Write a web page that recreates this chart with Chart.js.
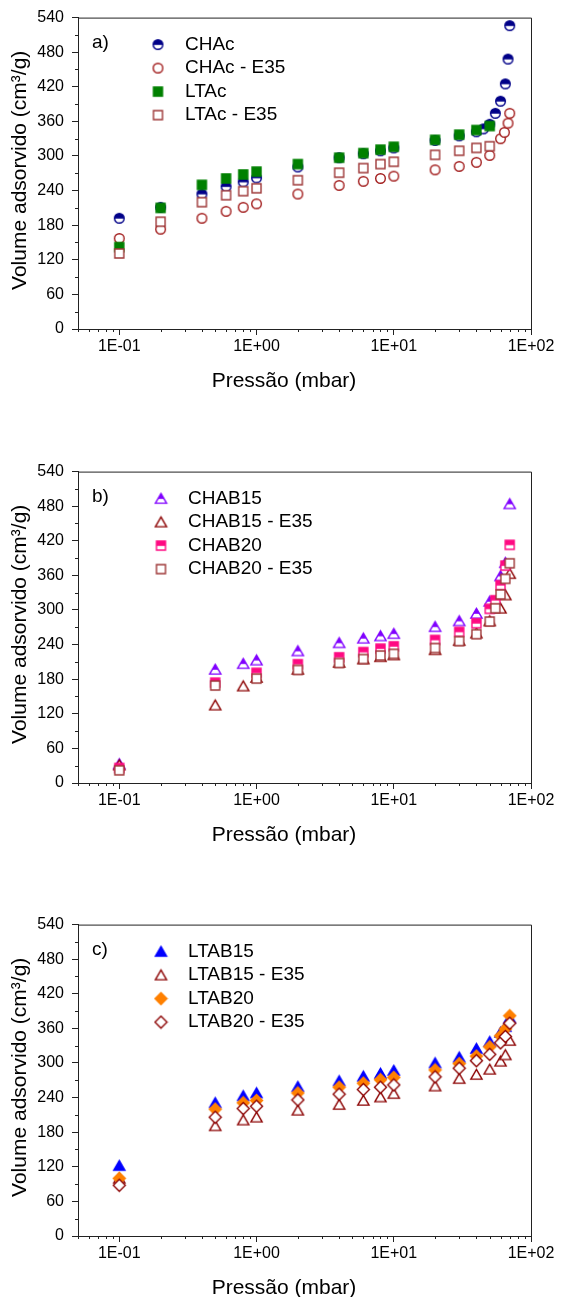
<!DOCTYPE html>
<html>
<head>
<meta charset="utf-8">
<script src="https://cdn.jsdelivr.net/npm/chart.js@4.4.1/dist/chart.umd.min.js"></script>
<style>
    html, body { margin: 0; padding: 0; background: #fff; }
    body { width: 561px; height: 1297px; position: relative; overflow: hidden; }
    canvas { position: absolute; left: 0; }
</style>
</head>
<body>
<canvas id="chartA" width="561" height="454" style="top:0px"></canvas>
<canvas id="chartB" width="561" height="454" style="top:454px"></canvas>
<canvas id="chartC" width="561" height="390" style="top:907px"></canvas>
<script>
// ---- data (pressure in mbar, volume in cm3/g) ----
const xTickValues = [0.1, 1, 10, 100];
const yTickStep = 60;

// a) CHAc / LTAc
const pCHAc = [0.1, 0.2, 0.4, 0.6, 0.8, 1, 2, 4, 6, 8, 10, 20, 30, 40, 45, 50, 55, 60, 65, 68, 70];
const vCHAc = [192, 211, 234, 247, 255, 262, 281, 297, 304, 309, 314, 327, 335, 342, 347, 355, 374, 395, 425, 468, 526];
const pCHAcE35 = [0.1, 0.2, 0.4, 0.6, 0.8, 1, 2, 4, 6, 8, 10, 20, 30, 40, 50, 60, 64, 68, 70];
const vCHAcE35 = [157, 173, 192, 204, 211, 217, 234, 249, 256, 261, 265, 276, 282, 289, 301, 330, 341, 357, 374];
const pLTAc = [0.1, 0.2, 0.4, 0.6, 0.8, 1, 2, 4, 6, 8, 10, 20, 30, 40, 50];
const vLTAc = [142, 210, 250, 261, 268, 273, 286, 297, 305, 311, 316, 328, 337, 345, 352];
const vLTAcE35 = [131, 186, 220, 232, 239, 244, 258, 271, 279, 286, 290, 302, 309, 314, 317];

// b) CHAB15 / CHAB20
const pCHAB15 = [0.1, 0.5, 0.8, 1, 2, 4, 6, 8, 10, 20, 30, 40, 50, 60, 65, 70];
const vCHAB15 = [33, 197, 207, 213, 229, 243, 251, 255, 259, 271, 281, 294, 315, 359, 382, 484];
const vCHAB15E35 = [31, 135, 168, 183, 197, 209, 215, 219, 222, 231, 247, 260, 281, 303, 326, 363];
const pCHAB20 = [0.1, 0.5, 1, 2, 4, 6, 8, 10, 20, 30, 40, 50, 55, 60, 65, 70];
const vCHAB20 = [26, 174, 191, 206, 218, 227, 233, 237, 248, 262, 277, 302, 317, 343, 377, 413];
const vCHAB20E35 = [22, 169, 181, 196, 208, 215, 221, 224, 234, 246, 258, 280, 303, 327, 354, 381];

// c) LTAB15 / LTAB20
const pLTAB = [0.1, 0.5, 0.8, 1, 2, 4, 6, 8, 10, 20, 30, 40, 50, 60, 65, 70];
const vLTAB15 = [122, 231, 243, 248, 259, 269, 277, 282, 287, 300, 310, 325, 337, 353, 363, 378];
const vLTAB15E35 = [100, 191, 201, 206, 218, 228, 235, 241, 247, 260, 273, 280, 289, 303, 314, 339];
const vLTAB20 = [100, 220, 231, 235, 248, 258, 265, 271, 275, 288, 299, 312, 328, 347, 359, 382];
const vLTAB20E35 = [88, 206, 221, 225, 236, 246, 254, 258, 262, 276, 291, 304, 315, 335, 346, 369];

const FONT = '"Liberation Sans", Arial, sans-serif';
const AXIS_COLOR = '#222';

// Build a marker image (Origin style symbols)
function makeMarker(shape, color, fill) {
    const s = 15;
    const c = document.createElement('canvas');
    c.width = s;
    c.height = s;
    const ctx = c.getContext('2d');
    const m = s / 2;
    const path = () => {
        ctx.beginPath();
        if (shape === 'circle') {
            ctx.arc(m, m, 4.8, 0, Math.PI * 2);
        } else if (shape === 'square') {
            ctx.rect(m - 4.5, m - 4.5, 9, 9);
        } else if (shape === 'triangle') {
            ctx.moveTo(m, m - 5.2);
            ctx.lineTo(m + 5.6, m + 4.6);
            ctx.lineTo(m - 5.6, m + 4.6);
            ctx.closePath();
        } else if (shape === 'diamond') {
            ctx.moveTo(m, m - 6);
            ctx.lineTo(m + 6, m);
            ctx.lineTo(m, m + 6);
            ctx.lineTo(m - 6, m);
            ctx.closePath();
        }
    };
    path();
    ctx.fillStyle = fill === 'full' ? color : '#fff';
    ctx.fill();
    if (fill === 'half') {
        ctx.save();
        path();
        ctx.clip();
        ctx.fillStyle = color;
        ctx.fillRect(0, 0, s, m + 0.3);
        ctx.restore();
    }
    path();
    ctx.strokeStyle = color;
    ctx.lineWidth = 1.4;
    ctx.stroke();
    return c;
}

function expLabel(v) {
    const e = Math.round(Math.log10(v));
    return '1E' + (e < 0 ? '-' : '+') + String(Math.abs(e)).padStart(2, '0');
}

function toPoints(xs, ys) {
    return xs.map((x, i) => ({ x: x, y: ys[i] }));
}

// Frame, minor ticks, titles, panel letter and legend
const decorPlugin = {
    id: 'decor',
    afterDraw(chart, args, opts) {
        const ctx = chart.ctx;
        const ca = chart.chartArea;
        const xs = chart.scales.x;
        const ys = chart.scales.y;
        ctx.save();
        ctx.strokeStyle = AXIS_COLOR;
        ctx.lineWidth = 1;
        ctx.beginPath();
        ctx.moveTo(ca.left, ca.top + 0.5);
        ctx.lineTo(ca.right + 0.5, ca.top + 0.5);
        ctx.lineTo(ca.right + 0.5, ca.bottom);
        ctx.stroke();

        // minor ticks
        ctx.beginPath();
        for (let d = -2; d <= 1; d++) {
            for (let k = 2; k <= 9; k++) {
                const v = k * Math.pow(10, d);
                if (v < xs.min || v > xs.max) continue;
                const px = Math.round(xs.getPixelForValue(v)) + 0.5;
                ctx.moveTo(px, ca.bottom);
                ctx.lineTo(px, ca.bottom + 3);
            }
        }
        for (let v = yTickStep / 2; v < ys.max; v += yTickStep) {
            const py = Math.round(ys.getPixelForValue(v)) + 0.5;
            ctx.moveTo(ca.left - 3, py);
            ctx.lineTo(ca.left, py);
        }
        ctx.stroke();

        // axis titles
        ctx.fillStyle = '#000';
        ctx.font = '21px ' + FONT;
        ctx.textAlign = 'center';
        ctx.textBaseline = 'middle';
        ctx.fillText('Pressão (mbar)', 284, ca.bottom + 52);
        ctx.save();
        ctx.translate(20, (ca.top + ca.bottom) / 2 - 3);
        ctx.rotate(-Math.PI / 2);
        ctx.fillText('Volume adsorvido (cm³/g)', 0, 0);
        ctx.restore();

        // panel letter
        ctx.font = '19px ' + FONT;
        ctx.textAlign = 'left';
        ctx.fillText(opts.letter, 92, ca.top + 25);

        // legend
        const rows = [27, 50.5, 74, 97.5];
        chart.data.datasets.forEach((ds, i) => {
            const y = ca.top + rows[i];
            const img = ds.pointStyle;
            ctx.drawImage(img, opts.legendX - img.width / 2, y - img.height / 2);
            ctx.fillText(ds.label, opts.legendX + 27, y);
        });
        ctx.restore();
    }
};

function makePanel(id, letter, legendX, series) {
    const canvas = document.getElementById(id);
    const ctx = canvas.getContext('2d');
    const n = series.length;
    return new Chart(ctx, {
        type: 'scatter',
        data: {
            datasets: series.map((s, i) => ({
                label: s.label,
                data: toPoints(s.x, s.y),
                pointStyle: s.marker,
                pointRadius: 6,
                pointHoverRadius: 6,
                showLine: false,
                order: n - i
            }))
        },
        options: {
            responsive: false,
            devicePixelRatio: 1,
            animation: false,
            events: [],
            layout: {
                padding: { top: 13, right: 30, left: 0, bottom: 0 }
            },
            plugins: {
                legend: { display: false },
                tooltip: { enabled: false },
                decor: { letter: letter, legendX: legendX }
            },
            scales: {
                x: {
                    type: 'logarithmic',
                    min: 0.05,
                    max: 100,
                    afterBuildTicks: (scale) => {
                        scale.ticks = xTickValues.map(v => ({ value: v, major: true }));
                    },
                    afterFit: (scale) => {
                        scale.height = canvas.height - 13 - 316;
                    },
                    ticks: {
                        callback: (v) => expLabel(v),
                        autoSkip: false,
                        maxRotation: 0,
                        padding: 2,
                        color: '#000',
                        font: { size: 16, family: FONT }
                    },
                    grid: {
                        drawOnChartArea: false,
                        drawTicks: true,
                        tickLength: 6,
                        color: AXIS_COLOR
                    },
                    border: { display: true, color: AXIS_COLOR, width: 1 }
                },
                y: {
                    min: 0,
                    max: 540,
                    afterFit: (scale) => {
                        scale.width = 78;
                    },
                    ticks: {
                        stepSize: yTickStep,
                        padding: 8,
                        color: '#000',
                        font: { size: 16, family: FONT }
                    },
                    grid: {
                        drawOnChartArea: false,
                        drawTicks: true,
                        tickLength: 6,
                        color: AXIS_COLOR
                    },
                    border: { display: true, color: AXIS_COLOR, width: 1 }
                }
            }
        },
        plugins: [decorPlugin]
    });
}

const navy = '#000088';
const brick = '#a31f1f';
const darkRed = '#8b0000';
const rose = '#9e3838';

makePanel('chartA', 'a)', 158, [
    { label: 'CHAc', x: pCHAc, y: vCHAc, marker: makeMarker('circle', navy, 'half') },
    { label: 'CHAc - E35', x: pCHAcE35, y: vCHAcE35, marker: makeMarker('circle', brick, 'none') },
    { label: 'LTAc', x: pLTAc, y: vLTAc, marker: makeMarker('square', '#008000', 'full') },
    { label: 'LTAc - E35', x: pLTAc, y: vLTAcE35, marker: makeMarker('square', rose, 'none') }
]);

makePanel('chartB', 'b)', 161, [
    { label: 'CHAB15', x: pCHAB15, y: vCHAB15, marker: makeMarker('triangle', '#8000ff', 'half') },
    { label: 'CHAB15 - E35', x: pCHAB15, y: vCHAB15E35, marker: makeMarker('triangle', darkRed, 'none') },
    { label: 'CHAB20', x: pCHAB20, y: vCHAB20, marker: makeMarker('square', '#ff0a82', 'half') },
    { label: 'CHAB20 - E35', x: pCHAB20, y: vCHAB20E35, marker: makeMarker('square', rose, 'none') }
]);

makePanel('chartC', 'c)', 161, [
    { label: 'LTAB15', x: pLTAB, y: vLTAB15, marker: makeMarker('triangle', '#0000ff', 'full') },
    { label: 'LTAB15 - E35', x: pLTAB, y: vLTAB15E35, marker: makeMarker('triangle', darkRed, 'none') },
    { label: 'LTAB20', x: pLTAB, y: vLTAB20, marker: makeMarker('diamond', '#ff8000', 'full') },
    { label: 'LTAB20 - E35', x: pLTAB, y: vLTAB20E35, marker: makeMarker('diamond', darkRed, 'none') }
]);
</script>
</body>
</html>
